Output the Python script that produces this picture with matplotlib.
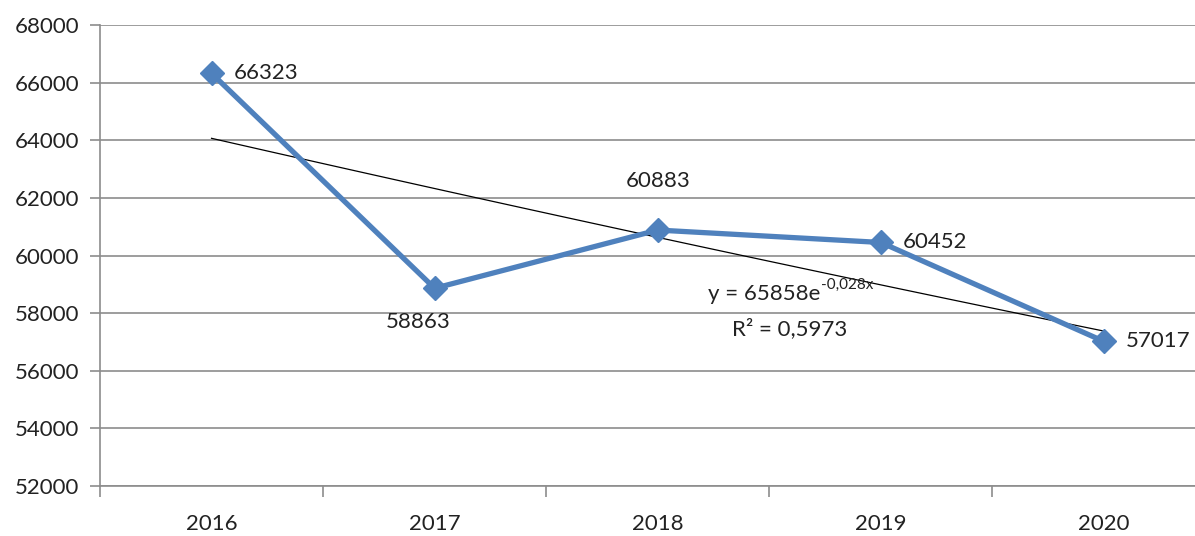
import numpy as np
import matplotlib
matplotlib.use("Agg")
import matplotlib.pyplot as plt
from matplotlib.transforms import offset_copy

plt.rcParams['font.family'] = ['Lato', 'DejaVu Sans']

years = ['2016', '2017', '2018', '2019', '2020']
values = [66323, 58863, 60883, 60452, 57017]
equation_main = "y = 65858e"
equation_sup = "-0,028x"
r2_text = "R² = 0,5973"

W, H = 1195, 536
fig = plt.figure(figsize=(W / 100, H / 100), dpi=100)
left, right, top, bottom = 100, 1195, 25, 486
ax = fig.add_axes([left / W, 1 - bottom / H, (right - left) / W, (bottom - top) / H])

x = np.arange(len(years))
line_color = '#4F81BD'
grid_color = '#8C8C8C'
text_color = '#222222'

# trendline (exponential fit like Excel)
xi = x + 1
b, ln_a = np.polyfit(xi, np.log(values), 1)
xt = np.linspace(1, 5, 50)
ax.plot(xt - 1, np.exp(ln_a) * np.exp(b * xt), color='black', lw=0.9, zorder=3)

ax.plot(x, values, color=line_color, lw=3.8, marker='D', ms=12,
        markerfacecolor=line_color, markeredgecolor=line_color, zorder=4)

ax.set_yticks(np.arange(52000, 68001, 2000))
ax.yaxis.grid(True, color=grid_color, lw=1.2)
ax.set_axisbelow(True)

ax.set_xticks(x)
ax.set_xticklabels(years)
ax.set_xticks(np.arange(-0.5, 4.6, 1), minor=True)
ax.set_ylim(52000, 68000)
ax.set_xlim(-0.5, 4.408)
ax.tick_params(axis='x', which='major', length=0, pad=20, labelsize=16, colors=text_color)
ax.tick_params(axis='x', which='minor', length=8, width=1.2, color=grid_color)
ax.tick_params(axis='y', length=7, width=1.2, color=grid_color, labelsize=16,
               labelcolor=text_color, pad=8)

for s in ['top', 'right']:
    ax.spines[s].set_visible(False)
for s in ['left', 'bottom']:
    ax.spines[s].set_color(grid_color)
    ax.spines[s].set_linewidth(1.2)

fs = 16
offsets = [(16, 0, 'left', 'center'), (-12, -17, 'center', 'top'),
           (0, 28, 'center', 'bottom'), (16, 0, 'left', 'center'),
           (16, 0, 'left', 'center')]
for xv, v, (dx, dy, ha, va) in zip(x, values, offsets):
    ax.annotate(str(v), (xv, v), xytext=(dx, dy), textcoords='offset points',
                ha=ha, va=va, fontsize=fs, color=text_color)

t_main = ax.text(2.224, 58450, equation_main, fontsize=fs, color=text_color,
                 ha='left', va='baseline')
fig.canvas.draw()
bb = t_main.get_window_extent(renderer=fig.canvas.get_renderer())
xd, yd = ax.transData.inverted().transform((bb.x1, 0))
ax.text(xd, 58450, equation_sup, fontsize=11, color=text_color, ha='left', va='baseline',
        transform=offset_copy(ax.transData, fig=fig, x=0.5, y=8, units='points'))
ax.text(2.59, 57250, r2_text, fontsize=fs, color=text_color, ha='center', va='baseline')

fig.savefig('out.png', dpi=100)
